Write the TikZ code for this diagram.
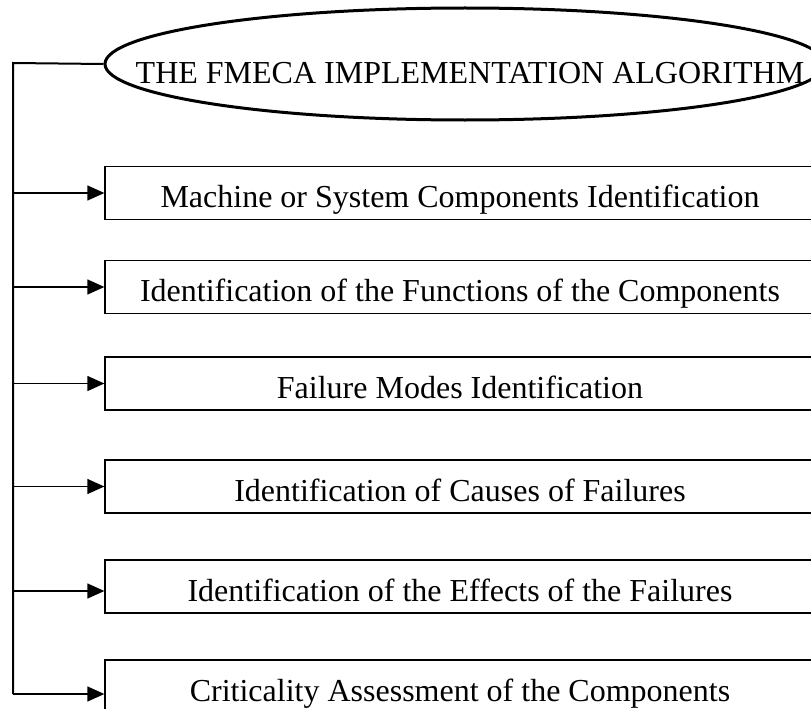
\documentclass[tikz,border=0pt]{standalone}
\usepackage{fontspec}
\setmainfont{Liberation Serif}
\usetikzlibrary{arrows.meta,shapes.geometric}
\begin{document}
\begin{tikzpicture}[x=1pt,y=-1pt,
  stepbox/.style={draw,line width=1.3pt,rectangle,minimum width=710pt,minimum height=53pt,
    inner ysep=0pt,text height=41pt,text depth=12pt,font=\fontsize{32}{37}\selectfont},
  arr/.style={line width=1.3pt,-{Triangle[length=17pt,width=15pt]}},
  titletext/.style={anchor=base,inner sep=0pt,font=\fontsize{32}{37}\selectfont}]
\useasboundingbox (0,0) rectangle (811,709);
\node[draw,ellipse,line width=3pt,minimum width=720pt,minimum height=112pt,inner sep=0pt] (ell) at (465,64) {};
\node[titletext] (title) at (470,84) {THE FMECA IMPLEMENTATION ALGORITHM};
\node[stepbox] (b1) at (460,193) {Machine or System Components Identification};
\node[stepbox] (b2) at (460,287) {Identification of the Functions of the Components};
\node[stepbox] (b3) at (460,383.5) {Failure Modes Identification};
\node[stepbox] (b4) at (460,486.5) {Identification of Causes of Failures};
\node[stepbox] (b5) at (460,586.5) {Identification of the Effects of the Failures};
\node[stepbox] (b6) at (460,686.5) {Criticality Assessment of the Components};
\coordinate (top) at (13,63);
\coordinate (bot) at (13,694);
\draw[line width=2pt] (ell.west) -- (top) -- (bot);
\draw[arr] (top |- b1.west) -- (b1.west);
\draw[arr] (top |- b2.west) -- (b2.west);
\draw[arr] (top |- b3.west) -- (b3.west);
\draw[arr] (top |- b4.west) -- (b4.west);
\draw[arr] ([yshift=-4.5pt]top |- b5.west) -- ([yshift=-4.5pt]b5.west);
\draw[arr] (bot) -- (bot -| b6.west);
\end{tikzpicture}
\end{document}
